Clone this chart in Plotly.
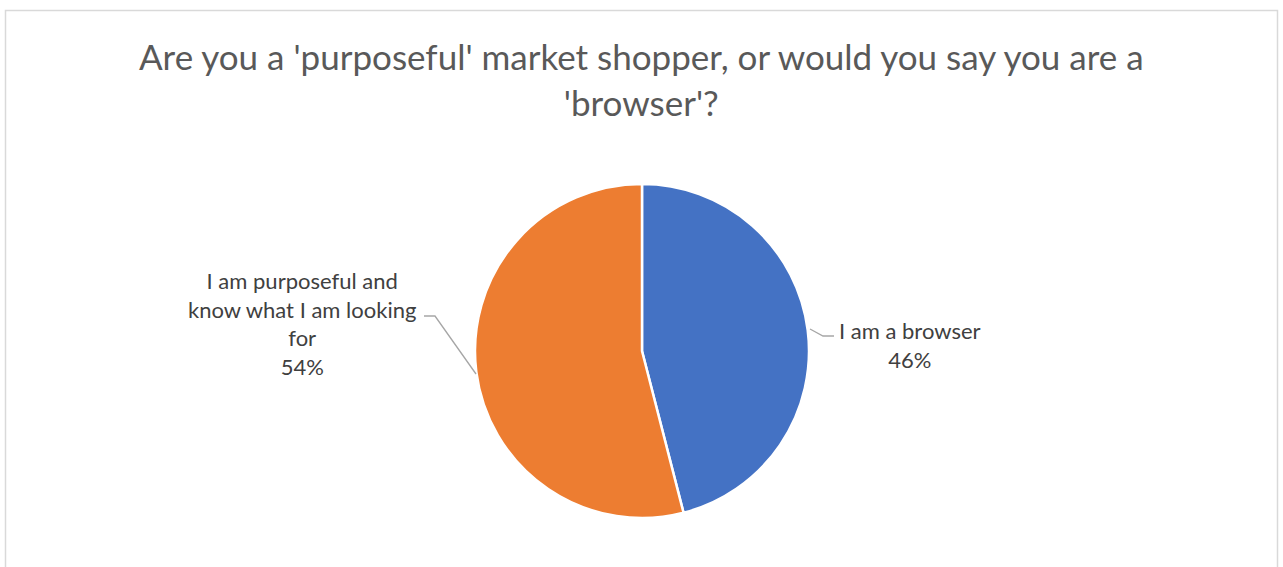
import plotly.graph_objects as go

W, H = 1283, 567

labels = ["I am a browser", "I am purposeful and know what I am looking for"]
values = [46, 54]
colors = ["#4472C4", "#ED7D31"]
label_lines = [["I am a browser"], ["I am purposeful and", "know what I am looking", "for"]]
title_text = "Are you a 'purposeful' market shopper, or would you say you are a<br>'browser'?"

def px(x):
    return x / W

def py(y):
    return 1 - y / H

fig = go.Figure()
fig.add_trace(go.Pie(
    labels=labels, values=values, sort=False, direction="clockwise", rotation=0,
    marker=dict(colors=colors, line=dict(color="white", width=2.5)),
    textinfo="none", hoverinfo="skip", showlegend=False,
    domain=dict(x=[px(475), px(809)], y=[py(518), py(184)]),
))

font_fam = "Lato, 'Open Sans', sans-serif"
total = sum(values)
pct = [f"{round(v * 100 / total)}%" for v in values]

annots = []
annots.append(dict(x=px(910), y=py(345), text="<br>".join(label_lines[0] + [pct[0]]),
                   font=dict(family=font_fam, size=22, color="#404040")))
annots.append(dict(x=px(302), y=py(323), text="<br>".join(label_lines[1] + [pct[1]]),
                   font=dict(family=font_fam, size=22, color="#404040")))
annots.append(dict(x=0.5, y=py(79), text=title_text,
                   font=dict(family=font_fam, size=35, color="#595959")))
for a in annots:
    a.update(xref="paper", yref="paper", showarrow=False, xanchor="center", yanchor="middle",
             align="center")

fig.update_layout(
    width=W, height=H, margin=dict(l=0, r=0, t=0, b=0),
    paper_bgcolor="white", plot_bgcolor="white",
    annotations=annots,
    shapes=[
        dict(type="rect", xref="paper", yref="paper", x0=px(5.5), x1=px(1277.5), y0=py(600), y1=py(10.5),
             line=dict(color="#D9D9D9", width=1.5), fillcolor="rgba(0,0,0,0)"),
        dict(type="path", xref="paper", yref="paper",
             path=f"M {px(810)} {py(329)} L {px(823)} {py(336)} L {px(834)} {py(336)}",
             line=dict(color="#A6A6A6", width=1.3)),
        dict(type="path", xref="paper", yref="paper",
             path=f"M {px(424)} {py(316)} L {px(435)} {py(316)} L {px(476)} {py(374)}",
             line=dict(color="#A6A6A6", width=1.3)),
    ],
)

fig.write_html("out.html")
